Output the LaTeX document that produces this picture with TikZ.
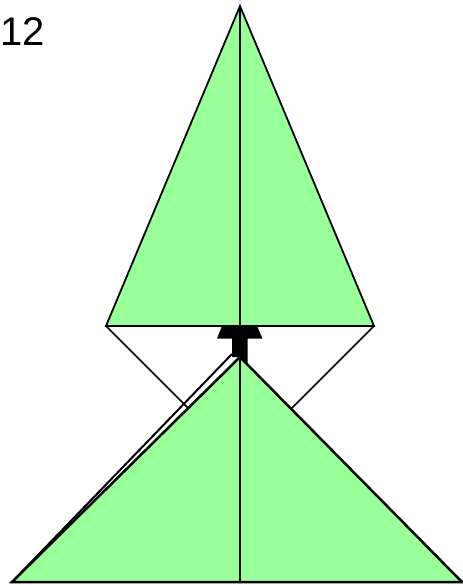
\documentclass[tikz,border=0pt]{standalone}
\usepackage{fontspec}
\setmainfont{Liberation Sans}
\usepackage{xcolor}
\definecolor{leafgreen}{HTML}{99FF99}

\begin{document}
\begin{tikzpicture}[
    x=0.5pt, y=-0.5pt,
    leaf/.style={fill=leafgreen, draw=black, line width=1.25pt, line join=miter},
    edge/.style={draw=black, line width=0.75pt},
    lbl/.style={font=\fontsize{20}{24}\selectfont, inner sep=0pt, anchor=base west}
]
\useasboundingbox (0,0) rectangle (462,585);

% Points of the upper triangle
\coordinate (topA) at (240,6);
\coordinate (topL) at (106,326);
\coordinate (topR) at (374,326);
\coordinate (topM) at (240,326);

% Points of the lower triangle
\coordinate (lowA) at (240,357);
\coordinate (lowL) at (12,582);
\coordinate (lowR) at (462,582);
\coordinate (lowM) at (240,582);

% Links under the lower triangle
\draw[edge] (topL) -- (190,410);
\draw[edge] (topR) -- (288,412);

% Black marker between the triangles
\fill[black] (222,326) -- (257,326) -- (262.5,338.5) -- (247.5,338.5) -- (247.5,364)
    -- (240,357) -- (232,357) -- (232,338.5) -- (217,338.5) -- cycle;

% Upper triangle
\draw[leaf, line width=0.9pt] (topA) -- (topR) -- (topL) -- cycle;
\draw[edge, line width=1pt] (topA) -- (topM);

% Lower triangle
\draw[leaf] (lowA) -- (lowR) -- (lowL) -- cycle;
\draw[edge] (lowA) -- (lowM);

% Second edge beside the left side
\draw[edge, line width=1pt] (lowL) -- (232,354);

\node[lbl] (num) at (0,45) {12};
\end{tikzpicture}
\end{document}
